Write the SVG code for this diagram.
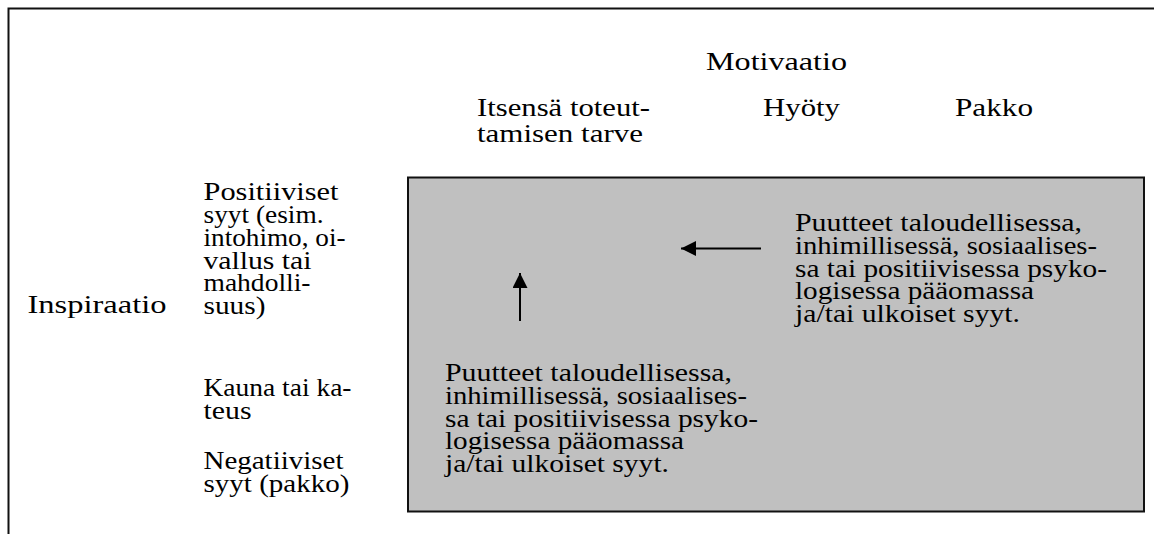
<svg xmlns="http://www.w3.org/2000/svg" width="1154" height="534" viewBox="0 0 1154 534">
<style>
text{font-family:"Liberation Serif","DejaVu Serif",serif;font-size:25px;fill:#000;}
.frame{stroke:#111;stroke-width:2;fill:none;}
.box{fill:#c0c0c0;stroke:#111;stroke-width:2;}
.conn{stroke:#000;stroke-width:2;fill:none;}
</style>
<defs>
<marker id="ah" markerWidth="16" markerHeight="16" refX="15" refY="7.5" orient="auto" markerUnits="userSpaceOnUse">
<path d="M0,0 L15,7.5 L0,15 Z" fill="#000"/>
</marker>
</defs>
<rect x="0" y="0" width="1154" height="534" fill="#fff"/>
<g id="frame">
<path class="frame" d="M8.5,534 V8.5 H1154"/>
</g>
<g id="header">
<text x="706" y="70" textLength="141" lengthAdjust="spacingAndGlyphs">Motivaatio</text>
<text x="477" y="116" textLength="173" lengthAdjust="spacingAndGlyphs">Itsensä toteut-</text>
<text x="477" y="142" textLength="166" lengthAdjust="spacingAndGlyphs">tamisen tarve</text>
<text x="763" y="116" textLength="77" lengthAdjust="spacingAndGlyphs">Hyöty</text>
<text x="955" y="116" textLength="78" lengthAdjust="spacingAndGlyphs">Pakko</text>
</g>
<g id="inspiraatio">
<text x="27.5" y="313" textLength="139" lengthAdjust="spacingAndGlyphs">Inspiraatio</text>
</g>
<g id="positiiviset">
<text x="203.5" y="200" textLength="135" lengthAdjust="spacingAndGlyphs">Positiiviset</text>
<text x="203.5" y="223" textLength="120" lengthAdjust="spacingAndGlyphs">syyt (esim.</text>
<text x="203.5" y="246" textLength="142" lengthAdjust="spacingAndGlyphs">intohimo, oi-</text>
<text x="203.5" y="268.5" textLength="108" lengthAdjust="spacingAndGlyphs">vallus tai</text>
<text x="203.5" y="291" textLength="107" lengthAdjust="spacingAndGlyphs">mahdolli-</text>
<text x="203.5" y="314" textLength="62" lengthAdjust="spacingAndGlyphs">suus)</text>
</g>
<g id="kauna">
<text x="203.5" y="396" textLength="148" lengthAdjust="spacingAndGlyphs">Kauna tai ka-</text>
<text x="203.5" y="419" textLength="48" lengthAdjust="spacingAndGlyphs">teus</text>
</g>
<g id="negatiiviset">
<text x="203.5" y="469" textLength="140" lengthAdjust="spacingAndGlyphs">Negatiiviset</text>
<text x="203.5" y="492" textLength="146" lengthAdjust="spacingAndGlyphs">syyt (pakko)</text>
</g>
<g id="box">
<rect class="box" x="408" y="177.5" width="736" height="334"/>
</g>
<g id="puutteet-right">
<text x="795" y="231" textLength="287" lengthAdjust="spacingAndGlyphs">Puutteet taloudellisessa,</text>
<text x="795" y="253.75" textLength="302" lengthAdjust="spacingAndGlyphs">inhimillisessä, sosiaalises-</text>
<text x="795" y="276.5" textLength="312" lengthAdjust="spacingAndGlyphs">sa tai positiivisessa psyko-</text>
<text x="795" y="299.25" textLength="239" lengthAdjust="spacingAndGlyphs">logisessa pääomassa</text>
<text x="795" y="322" textLength="225" lengthAdjust="spacingAndGlyphs">ja/tai ulkoiset syyt.</text>
</g>
<g id="puutteet-bottom">
<text x="445" y="381" textLength="287" lengthAdjust="spacingAndGlyphs">Puutteet taloudellisessa,</text>
<text x="445" y="403.75" textLength="302" lengthAdjust="spacingAndGlyphs">inhimillisessä, sosiaalises-</text>
<text x="445" y="426.5" textLength="313" lengthAdjust="spacingAndGlyphs">sa tai positiivisessa psyko-</text>
<text x="445" y="449.25" textLength="239" lengthAdjust="spacingAndGlyphs">logisessa pääomassa</text>
<text x="445" y="472" textLength="224" lengthAdjust="spacingAndGlyphs">ja/tai ulkoiset syyt.</text>
</g>
<g id="connectors">
<line class="conn" x1="761" y1="248.5" x2="681" y2="248.5" marker-end="url(#ah)"/>
<line class="conn" x1="520" y1="321" x2="520" y2="273" marker-end="url(#ah)"/>
</g>
</svg>
